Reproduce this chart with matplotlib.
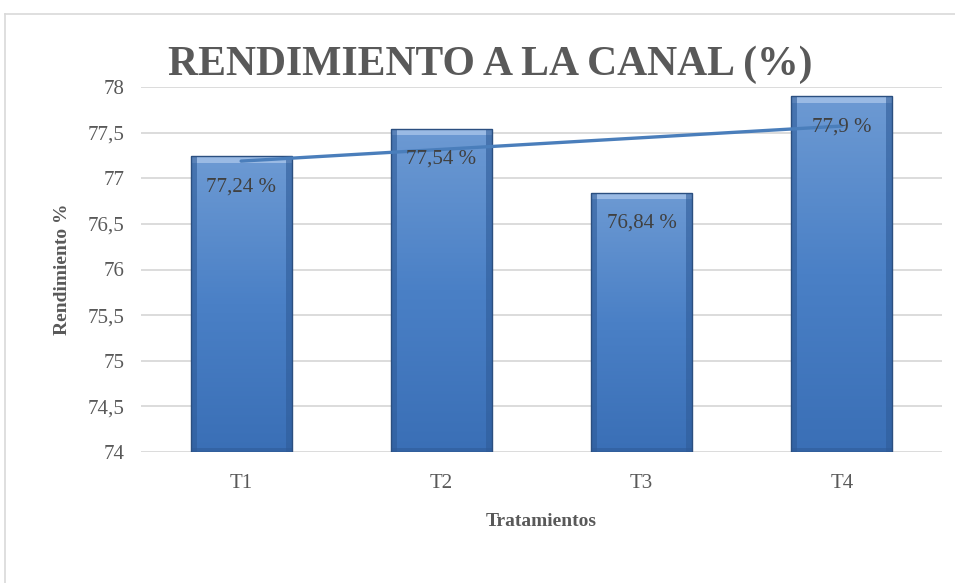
import numpy as np
import matplotlib
matplotlib.use("Agg")
import matplotlib.pyplot as plt
from matplotlib.colors import LinearSegmentedColormap
from matplotlib.patches import Rectangle

categories = ["T1", "T2", "T3", "T4"]
rendimiento = [77.24, 77.54, 76.84, 77.9]
labels = ["77,24 %", "77,54 %", "76,84 %", "77,9 %"]
yticks = [74, 74.5, 75, 75.5, 76, 76.5, 77, 77.5, 78]
ytick_labels = ["74", "74,5", "75", "75,5", "76", "76,5", "77", "77,5", "78"]

TEXT = "#595959"
plt.rcParams["font.family"] = ["Liberation Serif", "DejaVu Serif"]

fig = plt.figure(figsize=(9.55, 5.83), dpi=100)
ax = fig.add_axes([141 / 955, 1 - 452 / 583, 801 / 955, 365 / 583])

# outer chart frame (left and top edges visible)
fig.add_artist(plt.Line2D([5 / 955, 5 / 955], [0, 1 - 14 / 583],
                          transform=fig.transFigure, color="#D9D9D9", lw=1.2))
fig.add_artist(plt.Line2D([5 / 955, 1], [1 - 14 / 583, 1 - 14 / 583],
                          transform=fig.transFigure, color="#D9D9D9", lw=1.2))

x = np.arange(len(categories))
ax.set_xlim(-0.5, len(categories) - 0.5)
ax.set_ylim(74, 78)

for v in yticks:
    ax.axhline(v, color="#D9D9D9", lw=1.3, zorder=0)

cmap = LinearSegmentedColormap.from_list("bar", ["#3A6FB6", "#4A80C6", "#6D9AD3"])
width = 0.505
bars = ax.bar(x, [v - 74 for v in rendimiento], width, bottom=74,
              color="none", edgecolor="#2B4F80", linewidth=1.0, zorder=3)
for b in bars:
    x0, y0 = b.get_x(), b.get_y()
    w, h = b.get_width(), b.get_height()
    grad = np.linspace(0, 1, 256).reshape(-1, 1)
    im = ax.imshow(grad, extent=[x0, x0 + w, y0, y0 + h], origin="lower",
                   cmap=cmap, aspect="auto", zorder=2)
    im.set_clip_path(b)
    # bevel: light top, darker sides and bottom
    ax.add_patch(Rectangle((x0, y0 + h - 0.07), w, 0.07, facecolor="#A3C1E8",
                           edgecolor="none", alpha=0.85, zorder=2.5))
    ax.add_patch(Rectangle((x0, y0), 0.03, h, facecolor="#2F5C99",
                           edgecolor="none", alpha=0.6, zorder=2.5))
    ax.add_patch(Rectangle((x0 + w - 0.03, y0), 0.03, h, facecolor="#2F5C99",
                           edgecolor="none", alpha=0.6, zorder=2.5))
    ax.add_patch(Rectangle((x0, y0), w, 0.04, facecolor="#2F5C99",
                           edgecolor="none", alpha=0.6, zorder=2.5))

# linear trend line
coef = np.polyfit(x, rendimiento, 1)
ax.plot(x, np.polyval(coef, x), color="#4A7EBB", lw=2.4, zorder=5,
        solid_capstyle="round")

for xi, v, lab in zip(x, rendimiento, labels):
    ax.annotate(lab, (xi, v), xytext=(0, -22), textcoords="offset points",
                ha="center", va="center", fontsize=15, color="#404040", zorder=6)

ax.set_xticks(x)
ax.set_xticklabels(categories, fontsize=15, color=TEXT)
ax.set_yticks(yticks)
ax.set_yticklabels(ytick_labels, fontsize=15, color=TEXT)
ax.tick_params(length=0, pad=12)
ax.tick_params(axis="x", pad=16)
for s in ax.spines.values():
    s.set_visible(False)

ax.set_xlabel("Tratamientos", fontsize=14, fontweight="bold", color=TEXT, labelpad=14)
ax.set_ylabel("Rendimiento %", fontsize=14, fontweight="bold", color=TEXT, labelpad=12)
fig.text(490 / 955, 1 - 65 / 583, "RENDIMIENTO A LA CANAL (%)", ha="center",
         va="center", fontsize=30, fontweight="bold", color=TEXT)

fig.savefig("out.png", dpi=100)
